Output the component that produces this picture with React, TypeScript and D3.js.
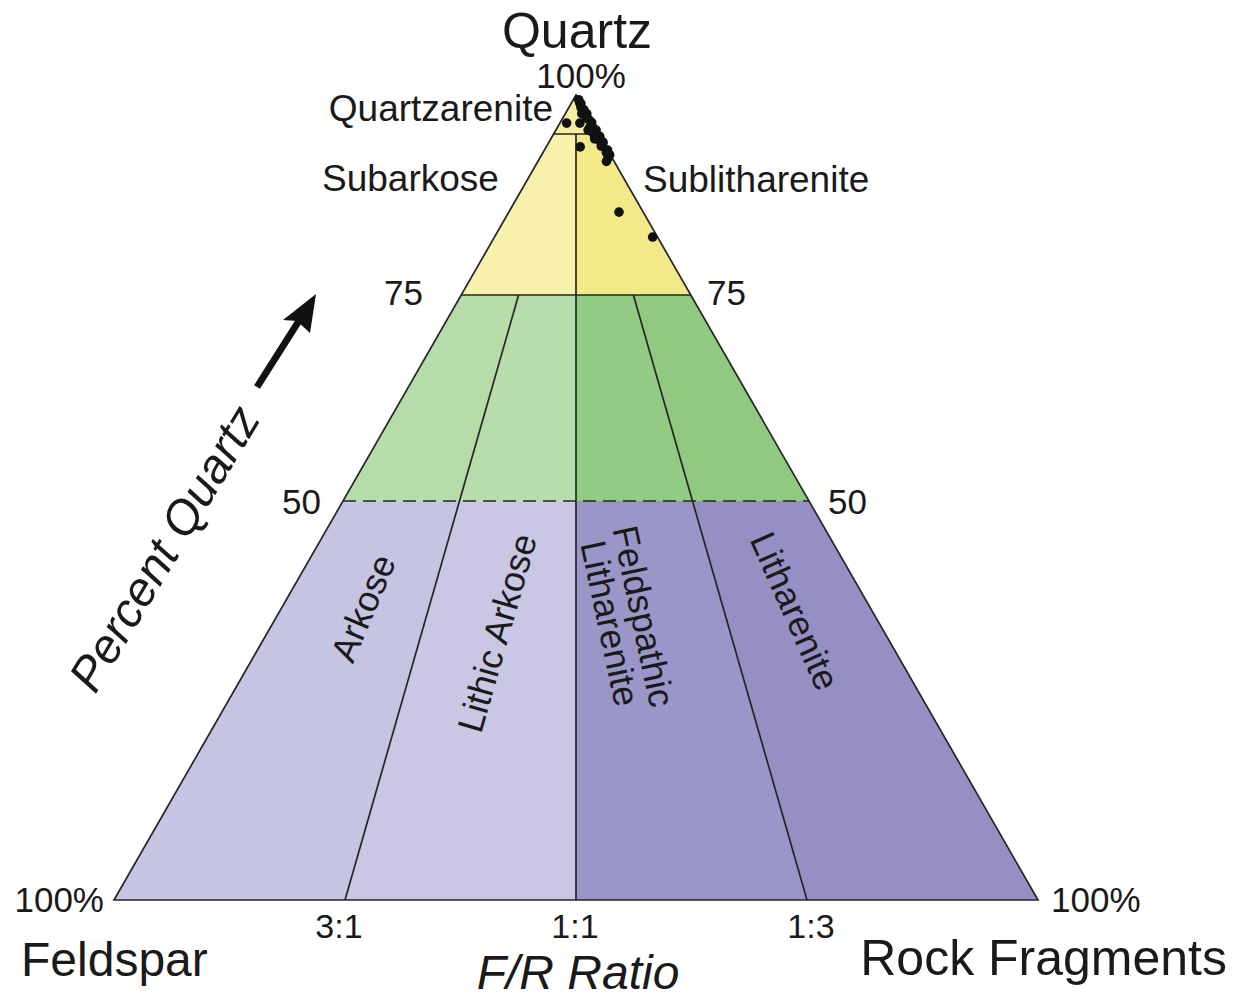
import React from "react";
import * as d3 from "d3";

// ---- Data ----
// Quartz percentage boundaries of the classification
const quartzLevels = [0, 50, 75, 95, 100];
// Rock-fragment fraction of (F+R) for the F/R ratio lines
const ratioLabels = ["3:1", "1:1", "1:3"];
const ratioValues = [0.25, 0.5, 0.75];

// Classification fields: [qLow, qHigh, rLow, rHigh]
const fieldNames = [
  "Quartzarenite", "Subarkose", "Sublitharenite",
  "G1", "G2", "G3", "G4",
  "Arkose", "Lithic Arkose", "Feldspathic Litharenite", "Litharenite",
];
const fieldQLow = [95, 75, 75, 50, 50, 50, 50, 0, 0, 0, 0];
const fieldQHigh = [100, 95, 95, 75, 75, 75, 75, 50, 50, 50, 50];
const fieldRLow = [0, 0, 0.5, 0, 0.25, 0.5, 0.75, 0, 0.25, 0.5, 0.75];
const fieldRHigh = [1, 0.5, 1, 0.25, 0.5, 0.75, 1, 0.25, 0.5, 0.75, 1];
const fieldColors = [
  "#f5ef9f", "#f7f1ab", "#f2ea88",
  "#b6dcaa", "#b8ddac", "#92cb83", "#90ca81",
  "#c6c4e3", "#c9c7e4", "#9b96c8", "#958fc4",
];

// Sample points: quartz %, rock fragment fraction of (F+R)
const sampleQuartz = [
  99.4, 98.9, 97.6, 97.0, 96.4, 96.4, 95.9, 95.1, 94.5, 94.2, 93.8, 93.0,
  92.4, 92.0, 91.6, 93.4, 85.3, 82.2, 98.1, 97.6, 96.5, 95.5, 94.7, 94.0,
  95.5, 94.4, 99.0, 98.4, 96.9, 96.0, 93.5, 92.7,
];
const sampleRock = [
  1.0, 1.0, 0.77, 0.9, 0.21, 0.62, 0.88, 0.89, 0.92, 0.95, 0.98, 1.0,
  0.99, 0.94, 0.9, 0.57, 0.82, 0.97, 0.97, 1.0, 1.0, 1.0, 1.0, 1.0,
  0.8, 0.87, 0.9, 0.85, 0.95, 0.95, 0.93, 0.96,
];

const FONT = "'Liberation Sans', Arial, Helvetica, sans-serif";

export default function App() {
  const X0 = 576;
  const HW = 462;
  const YA = 95;
  const YB = 900;
  const yScale = d3
    .scaleLinear()
    .domain(quartzLevels)
    .range([900, 501, 295, 134, 95]);
  const rScale = d3.scaleLinear().domain([0, 1]).range([-1, 1]);

  const pt = (q: number, r: number): [number, number] => {
    const y = yScale(q);
    const hw = (HW * (y - YA)) / (YB - YA);
    return [X0 + rScale(r) * hw, y];
  };

  const line = d3.line<[number, number]>();
  const poly = (pts: [number, number][]) => line(pts) + "Z";

  const fields = fieldNames.map((name, i) => {
    const q0 = fieldQLow[i], q1 = fieldQHigh[i], r0 = fieldRLow[i], r1 = fieldRHigh[i];
    return {
      name,
      d: poly([pt(q0, r0), pt(q0, r1), pt(q1, r1), pt(q1, r0)]),
      color: fieldColors[i],
    };
  });

  const stroke = "#252525";
  const sw = 1.7;

  const txt = (
    x: number,
    y: number,
    s: string,
    size: number,
    anchor: "start" | "middle" | "end" = "middle",
    extra: any = {}
  ) => (
    <text
      x={x}
      y={y}
      fontSize={size}
      textAnchor={anchor}
      fontFamily={FONT}
      fill="#1a1a1a"
      {...extra}
    >
      {s}
    </text>
  );

  const tail: [number, number] = [257, 387];
  const tip: [number, number] = [316, 294];

  return (
    <svg
      width={1240}
      height={1000}
      style={{ position: "absolute", left: 0, top: 0, background: "#fff" }}
    >
      <rect x={0} y={0} width={1240} height={1000} fill="#fff" />
      {fields.map((f) => (
        <path key={f.name} d={f.d} fill={f.color} stroke="none" />
      ))}

      {[95, 75].map((q) => (
        <path key={q} d={line([pt(q, 0), pt(q, 1)])!} stroke={stroke} strokeWidth={sw} fill="none" />
      ))}
      <path
        d={line([pt(50, 0), pt(50, 1)])!}
        stroke={stroke}
        strokeWidth={sw}
        strokeDasharray="13 7"
        fill="none"
      />

      {ratioValues.map((r) => (
        <path
          key={r}
          d={line([pt(r === 0.5 ? 95 : 75, r), pt(0, r)])!}
          stroke={stroke}
          strokeWidth={sw}
          fill="none"
        />
      ))}

      <path d={poly([pt(0, 0), pt(0, 1), pt(100, 0.5)])} stroke={stroke} strokeWidth={sw} fill="none" />

      {sampleQuartz.map((q, i) => {
        const [x, y] = pt(q, sampleRock[i]);
        return <circle key={i} cx={x} cy={y} r={4.8} fill="#111" />;
      })}

      {txt(577, 48, "Quartz", 50)}
      {txt(581, 88, "100%", 35)}
      {txt(553, 121, "Quartzarenite", 37, "end")}
      {txt(322, 191, "Subarkose", 37, "start")}
      {txt(643, 192, "Sublitharenite", 37, "start")}

      {txt(423, 305, "75", 35, "end")}
      {txt(707, 305, "75", 35, "start")}
      {txt(321, 514, "50", 35, "end")}
      {txt(828, 514, "50", 35, "start")}

      {txt(104, 912, "100%", 35, "end")}
      {txt(1051, 912, "100%", 35, "start")}
      {ratioLabels.map((l, i) => {
        const [x] = pt(0, ratioValues[i]);
        return <g key={l}>{txt(x - 6 + i * 5, 938, l, 34)}</g>;
      })}
      {txt(21, 976, "Feldspar", 48, "start")}
      {txt(1227, 975, "Rock Fragments", 50, "end")}
      {txt(578, 989, "F/R Ratio", 48, "middle", { fontStyle: "italic" })}

      {txt(0, 0, "Arkose", 36, "middle", {
        transform: "translate(363,608) rotate(-67)",
        dy: "0.35em",
      })}
      {txt(0, 0, "Lithic Arkose", 36, "middle", {
        transform: "translate(497,633) rotate(-74)",
        dy: "0.35em",
      })}
      <text
        transform="translate(626,620) rotate(78)"
        fontSize={36}
        textAnchor="middle"
        fontFamily={FONT}
        fill="#1a1a1a"
      >
        <tspan x={0} dy="-0.15em">Feldspathic</tspan>
        <tspan x={0} dy="0.95em">Litharenite</tspan>
      </text>
      {txt(0, 0, "Litharenite", 36, "middle", {
        transform: "translate(795,611) rotate(66)",
        dy: "0.35em",
      })}

      {txt(0, 0, "Percent Quartz", 48, "middle", {
        transform: "translate(164,548) rotate(-59)",
        dy: "0.35em",
        fontStyle: "italic",
      })}
      <line x1={tail[0]} y1={tail[1]} x2={302} y2={316} stroke="#111" strokeWidth={7} />
      <path d={poly([tip, [283, 320], [297, 321], [310, 333]])} fill="#111" />
    </svg>
  );
}
